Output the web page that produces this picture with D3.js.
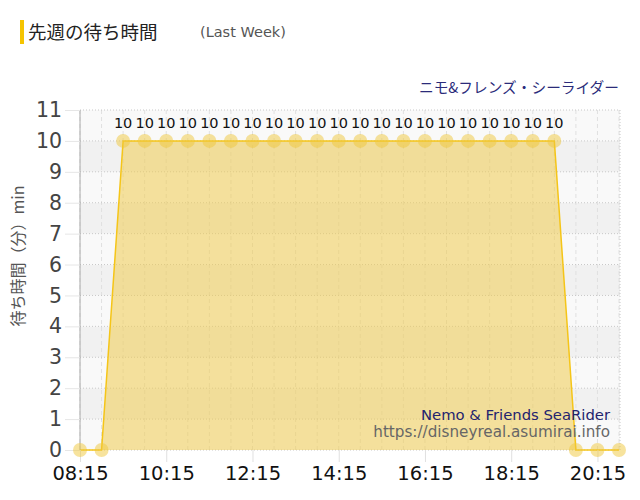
<!DOCTYPE html>
<html><head><meta charset="utf-8">
<script src="https://cdn.jsdelivr.net/npm/d3@7"></script>
<style>body{margin:0;background:#fff}svg{display:block}</style>
</head><body>
<svg id="c" width="640" height="500"></svg>
<script>
const times = ["08:15","08:45","09:15","09:45","10:15","10:45","11:15","11:45","12:15","12:45","13:15","13:45","14:15","14:45","15:15","15:45","16:15","16:45","17:15","17:45","18:15","18:45","19:15","19:45","20:15","20:45"];
const waits = [0,0,10,10,10,10,10,10,10,10,10,10,10,10,10,10,10,10,10,10,10,10,10,0,0,0];
const xTickLabels = ["08:15","10:15","12:15","14:15","16:15","18:15","20:15"];
const yTicks = [0,1,2,3,4,5,6,7,8,9,10,11];
const title = "先週の待ち時間";
const subtitle = "(Last Week)";
const nameJa = "ニモ&フレンズ・シーライダー";
const nameEn = "Nemo & Friends SeaRider";
const site = "https://disneyreal.asumirai.info";
const yLabel = "待ち時間（分）min";

const svg = d3.select("#c");
const font = "'DejaVu Sans', Verdana, sans-serif";
const jp = "'Noto Sans CJK JP', 'DejaVu Sans', sans-serif";
const parse = d3.timeParse("%H:%M");
const data = times.map((t,i)=>({t:parse(t), v:waits[i]}));

const L=80, R=620, T=110, B=450;
const x = d3.scaleTime().domain([parse("08:15"), parse("20:45")]).range([L, L + 25*21.56]);
const y = d3.scaleLinear().domain([0,11]).range([B,T]);

// bands
const bands = d3.range(0,11);
svg.append("g").selectAll("rect").data(bands).join("rect")
  .attr("x",L).attr("width",R-L)
  .attr("y",d=>y(d+1)).attr("height",d=>y(d)-y(d+1))
  .attr("fill",d=> (d%2===0)?"#f9f9f9":"#f1f1f1");

// vertical dashed grid at each data time
svg.append("g").selectAll("line").data(data).join("line")
  .attr("x1",d=>x(d.t)).attr("x2",d=>x(d.t)).attr("y1",T).attr("y2",B)
  .attr("stroke","#e0e0e0").attr("stroke-dasharray","4,3");

// horizontal dotted grid
svg.append("g").selectAll("line").data(yTicks).join("line")
  .attr("x1",L).attr("x2",R).attr("y1",d=>y(d)).attr("y2",d=>y(d))
  .attr("stroke","#c8c8c8").attr("stroke-dasharray","1,2");
svg.append("line").attr("x1",R).attr("x2",R).attr("y1",T).attr("y2",B)
  .attr("stroke","#c8c8c8").attr("stroke-dasharray","1,2");

// area & line
const area = d3.area().x(d=>x(d.t)).y0(y(0)).y1(d=>y(d.v));
svg.append("path").datum(data).attr("d",area).attr("fill","rgba(241,204,80,0.55)");
svg.append("path").datum(data).attr("d",d3.line().x(d=>x(d.t)).y(d=>y(d.v)))
  .attr("fill","none").attr("stroke","#f5c518").attr("stroke-width",1.5);

// y axis
const yAxis = d3.axisLeft(y).tickValues(yTicks).tickSize(15).tickPadding(3);
const gy = svg.append("g").attr("transform",`translate(${L},0)`).call(yAxis);
gy.select(".domain").attr("stroke","#aaa").attr("d",`M0,${T}V${B}`);
gy.selectAll(".tick line").attr("stroke","#e6e6e6");
gy.selectAll(".tick text").attr("font-family",font).attr("font-size",20.5).attr("fill","#444");

// x axis
const xAxis = d3.axisBottom(x).tickValues(xTickLabels.map(parse)).tickFormat(d3.timeFormat("%H:%M")).tickSize(12).tickPadding(4);
const gx = svg.append("g").attr("transform",`translate(0,${B})`).call(xAxis);
gx.select(".domain").remove();
gx.selectAll(".tick line").attr("stroke","#e0e0e0");
gx.selectAll(".tick text").attr("font-family",font).attr("font-size",19.5).attr("fill","#111");

// points
svg.append("g").selectAll("circle").data(data).join("circle")
  .attr("cx",d=>x(d.t)).attr("cy",d=>y(d.v)).attr("r",7)
  .attr("fill","rgba(240,200,60,0.5)");

// labels
svg.append("g").selectAll("text").data(data.filter(d=>d.v>0)).join("text")
  .attr("x",d=>x(d.t)).attr("y",d=>y(d.v)-13).attr("text-anchor","middle")
  .attr("font-family",font).attr("font-size",14.5).attr("fill","#111").text(d=>d.v);

// title
svg.append("rect").attr("x",20).attr("y",20).attr("width",4).attr("height",24).attr("fill","#f5c400");
svg.append("text").attr("x",28).attr("y",39).attr("font-family",jp).attr("font-size",18.5).attr("fill","#222").text(title);
svg.append("text").attr("x",200).attr("y",37).attr("font-family",font).attr("font-size",14.5).attr("fill","#555").text(subtitle);

svg.append("text").attr("x",619).attr("y",93).attr("text-anchor","end").attr("font-family",jp).attr("font-size",14.7).attr("fill","#2b2b7a").text(nameJa);
svg.append("text").attr("x",610).attr("y",420).attr("text-anchor","end").attr("font-family",font).attr("font-size",14.8).attr("fill","#23236e").text(nameEn);
svg.append("text").attr("x",610).attr("y",437).attr("text-anchor","end").attr("font-family",font).attr("font-size",15.2).attr("fill","#666").text(site);

svg.append("text").attr("transform","translate(24,256) rotate(-90)").attr("text-anchor","middle")
  .attr("font-family",jp).attr("font-size",16).attr("fill","#555").text(yLabel);
</script>
</body></html>
